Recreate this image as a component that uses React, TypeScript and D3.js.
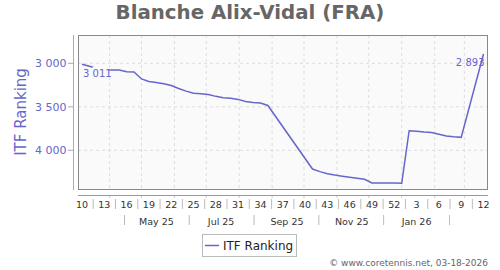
import React from "react";
import * as d3 from "d3";

const title = "Blanche Alix-Vidal (FRA)";
const seriesName = "ITF Ranking";
const rankDates = [
  "2025-03-06","2025-03-13","2025-03-20","2025-03-27","2025-04-03","2025-04-10","2025-04-17","2025-04-24",
  "2025-05-01","2025-05-08","2025-05-15","2025-05-22","2025-05-29","2025-06-05","2025-06-12","2025-06-19",
  "2025-06-26","2025-07-03","2025-07-10","2025-07-17","2025-07-24","2025-07-31","2025-08-07","2025-08-14",
  "2025-08-21","2025-08-28","2025-10-09","2025-10-16","2025-10-23","2025-10-30","2025-11-06","2025-11-13",
  "2025-11-20","2025-11-27","2025-12-04","2025-12-11","2025-12-18","2025-12-25","2026-01-01","2026-01-08",
  "2026-01-15","2026-01-22","2026-01-29","2026-02-05","2026-02-12","2026-02-19","2026-02-26","2026-03-19",
];
const rankValues = [
  3011, 3035, 3060, 3075, 3077, 3077, 3098, 3100,
  3180, 3208, 3220, 3235, 3255, 3290, 3320, 3345,
  3350, 3358, 3380, 3395, 3403, 3415, 3440, 3450,
  3456, 3485, 4215, 4245, 4270, 4285, 4298, 4310,
  4322, 4333, 4376, 4376, 4375, 4376, 4378, 3775,
  3780, 3790, 3795, 3815, 3836, 3845, 3851, 2893,
];
const yTicks = [3000, 3500, 4000];
const weekLabels = ["10","13","16","19","22","25","28","31","34","37","40","43","46","49","52","3","6","9","12"];
const weekLabelDates = [
  "2025-03-06","2025-03-27","2025-04-17","2025-05-08","2025-05-29","2025-06-19","2025-07-10","2025-07-31",
  "2025-08-21","2025-09-11","2025-10-02","2025-10-23","2025-11-13","2025-12-04","2025-12-25","2026-01-15",
  "2026-02-05","2026-02-26","2026-03-19",
];
const monthLabels = ["May 25", "Jul 25", "Sep 25", "Nov 25", "Jan 26"];
const monthLabelDates = ["2025-05-15", "2025-07-15", "2025-09-15", "2025-11-15", "2026-01-15"];
const monthSepDates = ["2025-04-15", "2025-06-15", "2025-08-15", "2025-10-15", "2025-12-15", "2026-02-15"];
const footer = "© www.coretennis.net, 03-18-2026";

const P = (s: string) => new Date(s + "T00:00:00Z");

export default function App() {
  const W = 500, H = 270;
  const L = 78, R = 488, T = 35, B = 190;
  const blue = "#6666cc";
  const font = "DejaVu Sans, Verdana, sans-serif";
  const x = d3.scaleUtc().domain([P("2025-03-06"), P("2026-03-19")]).range([82, 483.5]);
  const y = d3.scaleLinear().domain([3000, 4000]).range([63.3, 150.3]);
  const pts = rankDates.map((d, i) => ({ d: P(d), v: rankValues[i] }));
  const line = d3.line<{ d: Date; v: number }>().x(p => x(p.d)).y(p => y(p.v));
  const months = d3.utcMonth.range(P("2025-03-02"), P("2026-03-24"));
  const sepX: number[] = [];
  for (let i = 0; i < weekLabelDates.length - 1; i++) {
    sepX.push((x(P(weekLabelDates[i])) + x(P(weekLabelDates[i + 1]))) / 2);
  }
  const first = pts[0], last = pts[pts.length - 1];
  const fmt = (v: number) => d3.format(",")(v).replace(",", " ");
  return (
    <svg width={W} height={H} style={{ position: "absolute", left: 0, top: 0 }} fontFamily={font}>
      <rect x={0} y={0} width={W} height={H} fill="#fff" />
      <text x={250} y={19} textAnchor="middle" fontSize={19.8} fontWeight="bold" fill="#666">{title}</text>
      <rect x={L} y={T} width={R - L} height={B - T} fill="#fafafa" />
      <clipPath id="pc"><rect x={L} y={T} width={R - L} height={B - T} /></clipPath>
      {months.map((m, i) => (
        x(m) > L && x(m) < R ? <line key={i} x1={x(m)} x2={x(m)} y1={T} y2={B} stroke="#ddd" strokeDasharray="3,3" /> : null
      ))}
      {yTicks.map(t => (
        <line key={t} x1={L} x2={R} y1={y(t)} y2={y(t)} stroke="#ddd" strokeDasharray="3,3" />
      ))}
      <rect x={L + 0.5} y={T + 0.5} width={R - L - 1} height={B - T - 1} fill="none" stroke="#888" />
      <path d={line(pts) || ""} fill="none" stroke={blue} strokeWidth={1.5} clipPath="url(#pc)" />
      <rect x={x(first.d) + 10.5} y={y(first.v) + 2.5} width={16} height={12} fill="#fafafa" />
      <text x={x(first.d) + 1} y={y(first.v) + 12.5} fontSize={10} fill={blue}>{fmt(first.v)}</text>
      <text x={x(last.d) + 1} y={y(last.v) + 12.5} fontSize={10} fill={blue} textAnchor="end">{fmt(last.v)}</text>
      {/* y axis */}
      <line x1={73.5} x2={73.5} y1={T} y2={B} stroke="#aab" />
      {yTicks.map(t => (
        <g key={t}>
          <line x1={68} x2={73} y1={y(t)} y2={y(t)} stroke="#aab" />
          <text x={66.5} y={y(t) + 4} textAnchor="end" fontSize={11} fill={blue}>{fmt(t)}</text>
        </g>
      ))}
      <text transform={`translate(25.5,112) rotate(-90)`} textAnchor="middle" fontSize={15} fill={blue}>{seriesName}</text>
      {/* x axis */}
      <line x1={L} x2={R} y1={195.5} y2={195.5} stroke="#999" />
      {months.map((m, i) => (
        x(m) > L && x(m) < R ? <line key={i} x1={x(m)} x2={x(m)} y1={196} y2={198} stroke="#ccc" /> : null
      ))}
      {weekLabels.map((w, i) => (
        <text key={i} x={x(P(weekLabelDates[i]))} y={207.5} textAnchor="middle" fontSize={9.5} fill="#333">{w}</text>
      ))}
      {sepX.map((sx, i) => (
        <line key={i} x1={sx} x2={sx} y1={199} y2={209} stroke="#bbb" />
      ))}
      {monthLabels.map((m, i) => (
        <text key={i} x={x(P(monthLabelDates[i]))} y={224.5} textAnchor="middle" fontSize={9.5} fill="#333">{m}</text>
      ))}
      {monthSepDates.map((d, i) => (
        <line key={i} x1={x(P(d))} x2={x(P(d))} y1={215} y2={225} stroke="#bbb" />
      ))}
      {/* legend */}
      <rect x={202.5} y={234.5} width={94} height={22} fill="#fff" stroke="#bbb" />
      <line x1={205} x2={219} y1={245.5} y2={245.5} stroke={blue} strokeWidth={1.5} />
      <text x={223} y={250} fontSize={12} fill="#222">{seriesName}</text>
      <text x={488} y={266} textAnchor="end" fontSize={9} fill="#666">{footer}</text>
    </svg>
  );
}
